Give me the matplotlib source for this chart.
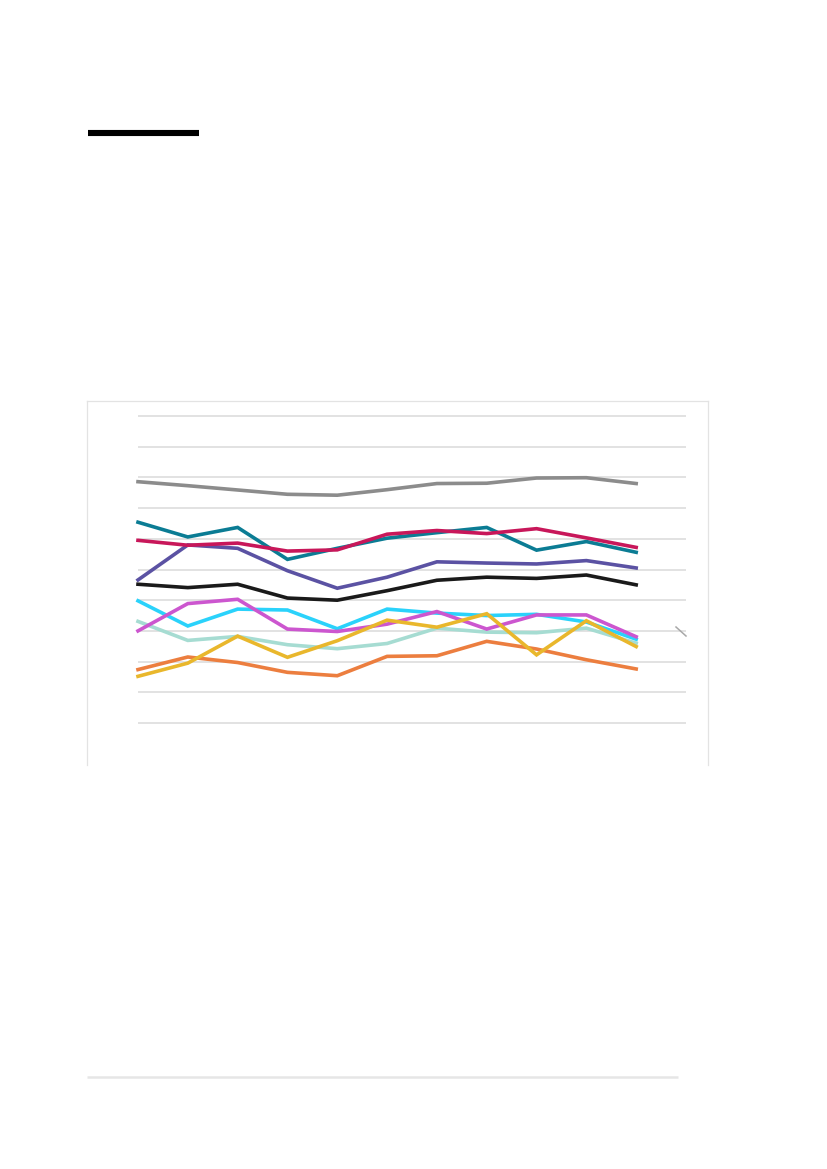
import matplotlib.pyplot as plt
from matplotlib.lines import Line2D

# Data (11 periods, values in gridline units 0-100)
periods = list(range(11))
grey = [78.6, 77.3, 75.9, 74.5, 74.2, 76.0, 78.0, 78.1, 79.8, 79.9, 78.0]
teal = [65.4, 60.6, 63.7, 53.3, 56.9, 60.2, 62.0, 63.7, 56.3, 59.1, 55.6]
crimson = [59.5, 57.9, 58.6, 56.0, 56.4, 61.5, 62.7, 61.7, 63.3, 60.3, 57.2]
purple = [46.6, 58.0, 56.9, 49.6, 43.9, 47.5, 52.5, 52.1, 51.8, 52.9, 50.5]
black = [45.2, 44.1, 45.2, 40.7, 40.0, 43.1, 46.5, 47.5, 47.1, 48.2, 45.0]
cyan = [39.8, 31.6, 37.1, 36.8, 30.7, 37.1, 35.8, 35.0, 35.4, 32.9, 27.3]
magenta = [30.0, 38.9, 40.3, 30.6, 29.8, 32.2, 36.3, 30.6, 35.2, 35.2, 28.1]
mint = [33.1, 26.9, 28.2, 25.5, 24.2, 25.9, 30.9, 29.6, 29.4, 30.9, 26.0]
yellow = [15.2, 19.5, 28.3, 21.4, 26.8, 33.5, 31.2, 35.6, 22.2, 33.3, 24.9]
orange = [17.4, 21.5, 19.7, 16.5, 15.4, 21.7, 21.9, 26.6, 24.1, 20.6, 17.6]

series = [
    (grey, "#8c8c8c"),
    (teal, "#0b7c94"),
    (purple, "#5b52a3"),
    (crimson, "#c8175a"),
    (black, "#1a1a1a"),
    (mint, "#a6dcd2"),
    (cyan, "#2ad2fb"),
    (magenta, "#cc56cf"),
    (orange, "#ec7e3f"),
    (yellow, "#e9b72c"),
]

W, H = 827, 1169
fig = plt.figure(figsize=(W / 100, H / 100), dpi=100)


def fx(px):
    return px / W


def fy(py):
    return 1 - py / H


# axes: y 0..100 maps to pixel rows 723..416, x 0..11 maps to columns 138..686
pad = 1.0
unit = (723 - 416) / 100
ax = fig.add_axes([fx(138), fy(723 + pad * unit), fx(686) - fx(138),
                   (723 - 416 + 2 * pad * unit) / H])
ax.set_xlim(0, 11)
ax.set_ylim(-pad, 100 + pad)
ax.set_yticks(range(0, 101, 10))
ax.set_xticks([])
ax.grid(axis="y", color="#dadada", linewidth=1.1)
ax.tick_params(left=False, labelleft=False)
for s in ax.spines.values():
    s.set_visible(False)
ax.set_axisbelow(True)

for vals, col in series:
    ax.plot(periods, vals, color=col, linewidth=2.6, solid_joinstyle="miter",
            solid_capstyle="projecting", clip_on=False)

# frame around chart (open at the bottom)
frame = "#e3e3e3"
for xs, ys in [([87, 87], [765, 401]), ([87, 708], [401, 401]), ([708, 708], [401, 765])]:
    fig.add_artist(Line2D([fx(x) for x in xs], [fy(y) for y in ys],
                          color=frame, linewidth=0.9))

# small diagonal mark at the right of the plot
fig.add_artist(Line2D([fx(676), fx(686)], [fy(627), fy(636)],
                      color="#a8a8a8", linewidth=1.1))

# thick black heading bar
fig.add_artist(Line2D([fx(88), fx(199)], [fy(133), fy(133)],
                      color="black", linewidth=4.4, solid_capstyle="butt"))

# bottom rule
fig.add_artist(Line2D([fx(87), fx(678)], [fy(1077), fy(1077)],
                      color="#e6e6e6", linewidth=1.8, solid_capstyle="butt"))

fig.savefig("out.png", dpi=100, facecolor="white")
